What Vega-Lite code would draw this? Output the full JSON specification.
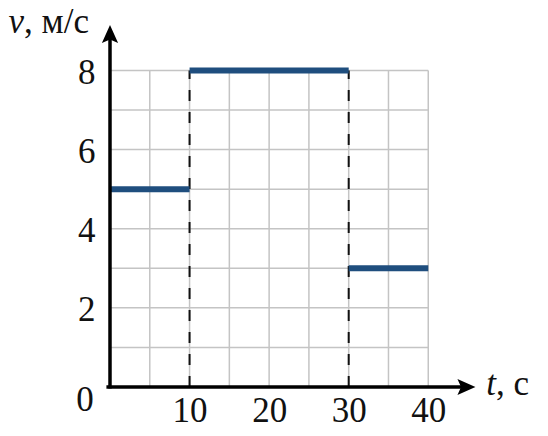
{
  "$schema": "https://vega.github.io/schema/vega-lite/v6.json",
  "width": 366,
  "height": 364,
  "autosize": {"type": "none"},
  "padding": {"left": 110, "top": 23, "right": 72, "bottom": 49},
  "background": "white",
  "config": {"view": {"stroke": null}},
  "datasets": {
    "gridV": [{"x": 5, "lo": 0, "hi": 8}, {"x": 10, "lo": 0, "hi": 8}, {"x": 15, "lo": 0, "hi": 8}, {"x": 20, "lo": 0, "hi": 8}, {"x": 25, "lo": 0, "hi": 8}, {"x": 30, "lo": 0, "hi": 8}, {"x": 35, "lo": 0, "hi": 8}, {"x": 40, "lo": 0, "hi": 8}],
    "gridH": [{"y": 1, "lo": 0, "hi": 40}, {"y": 2, "lo": 0, "hi": 40}, {"y": 3, "lo": 0, "hi": 40}, {"y": 4, "lo": 0, "hi": 40}, {"y": 5, "lo": 0, "hi": 40}, {"y": 6, "lo": 0, "hi": 40}, {"y": 7, "lo": 0, "hi": 40}, {"y": 8, "lo": 0, "hi": 40}],
    "dashes": [{"t": 10, "lo": 0, "v": 8}, {"t": 30, "lo": 0, "v": 8}],
    "speed": [
      {"t0": 0, "t1": 10, "v": 5},
      {"t0": 10, "t1": 30, "v": 8},
      {"t0": 30, "t1": 40, "v": 3}
    ],
    "axes": [
      {"x": -0.45, "x2": 44.8, "y": 0, "y2": 0},
      {"x": 0, "x2": 0, "y": -0.04, "y2": 8.92}
    ],
    "arrowUp": [{"x": 0, "y": 8.92}],
    "arrowRight": [{"x": 44.8, "y": 0}],
    "plain": [
      {"x": -3.14, "y": -0.33, "text": "0"}
    ],
    "italic": [
      {"x": -10.8, "y": 8.95, "text": "v"},
      {"x": 48.5, "y": -0.2, "text": "t"}
    ],
    "units": [
      {"x": -10.8, "y": 8.95, "text": ", м/с"},
      {"x": 48.5, "y": -0.2, "text": ", с"}
    ]
  },
  "layer": [
    {
      "data": {"name": "gridV"},
      "mark": {"type": "rule", "color": "#c4c4c4", "strokeWidth": 1.5},
      "encoding": {
        "x": {"field": "x", "type": "quantitative", "scale": {"domain": [0, 46], "nice": false, "zero": false}, "axis": {"values": [10, 20, 30, 40], "title": null, "domain": false, "ticks": false, "grid": false, "labelFont": "Liberation Serif", "labelFontSize": 35, "labelColor": "#111", "labelPadding": 6, "labelFlush": false, "labelOverlap": false}},
        "y": {"field": "lo", "type": "quantitative", "scale": {"domain": [0, 9.2], "nice": false, "zero": false}, "axis": {"values": [2, 4, 6, 8], "title": null, "domain": false, "ticks": false, "grid": false, "labelFont": "Liberation Serif", "labelFontSize": 35, "labelColor": "#111", "labelPadding": 15, "labelFlush": false, "labelOverlap": false, "labelOffset": 2}},
        "y2": {"field": "hi"}
      }
    },
    {
      "data": {"name": "gridH"},
      "mark": {"type": "rule", "color": "#c4c4c4", "strokeWidth": 1.5},
      "encoding": {
        "y": {"field": "y", "type": "quantitative"},
        "x": {"field": "lo", "type": "quantitative"},
        "x2": {"field": "hi"}
      }
    },
    {
      "data": {"name": "dashes"},
      "mark": {"type": "rule", "color": "#111", "strokeWidth": 2, "strokeDash": [11, 11]},
      "encoding": {
        "x": {"field": "t", "type": "quantitative"},
        "y": {"field": "lo", "type": "quantitative"},
        "y2": {"field": "v"}
      }
    },
    {
      "data": {"name": "speed"},
      "mark": {"type": "rule", "color": "#1f4e7e", "strokeWidth": 6},
      "encoding": {
        "x": {"field": "t0", "type": "quantitative"},
        "x2": {"field": "t1"},
        "y": {"field": "v", "type": "quantitative"}
      }
    },
    {
      "data": {"name": "axes"},
      "mark": {"type": "rule", "color": "#000", "strokeWidth": 3.5, "clip": false},
      "encoding": {
        "x": {"field": "x", "type": "quantitative"},
        "x2": {"field": "x2"},
        "y": {"field": "y", "type": "quantitative"},
        "y2": {"field": "y2"}
      }
    },
    {
      "data": {"name": "arrowUp"},
      "mark": {"type": "point", "shape": "M0,-1L0.9,1L0,0.6L-0.9,1Z", "filled": true, "color": "#000", "opacity": 1, "size": 324, "clip": false},
      "encoding": {
        "x": {"field": "x", "type": "quantitative"},
        "y": {"field": "y", "type": "quantitative"}
      }
    },
    {
      "data": {"name": "arrowRight"},
      "mark": {"type": "point", "shape": "M1,0L-1,-0.9L-0.6,0L-1,0.9Z", "filled": true, "color": "#000", "opacity": 1, "size": 324, "clip": false},
      "encoding": {
        "x": {"field": "x", "type": "quantitative"},
        "y": {"field": "y", "type": "quantitative"}
      }
    },
    {
      "data": {"name": "plain"},
      "mark": {"type": "text", "font": "Liberation Serif", "fontSize": 35, "color": "#111", "align": "center", "baseline": "middle"},
      "encoding": {
        "x": {"field": "x", "type": "quantitative"},
        "y": {"field": "y", "type": "quantitative"},
        "text": {"field": "text"}
      }
    },
    {
      "data": {"name": "italic"},
      "mark": {"type": "text", "font": "Liberation Serif", "fontSize": 35, "fontStyle": "italic", "color": "#111", "align": "right", "baseline": "alphabetic"},
      "encoding": {
        "x": {"field": "x", "type": "quantitative"},
        "y": {"field": "y", "type": "quantitative"},
        "text": {"field": "text"}
      }
    },
    {
      "data": {"name": "units"},
      "mark": {"type": "text", "font": "Liberation Serif", "fontSize": 35, "color": "#111", "align": "left", "baseline": "alphabetic"},
      "encoding": {
        "x": {"field": "x", "type": "quantitative"},
        "y": {"field": "y", "type": "quantitative"},
        "text": {"field": "text"}
      }
    }
  ]
}
